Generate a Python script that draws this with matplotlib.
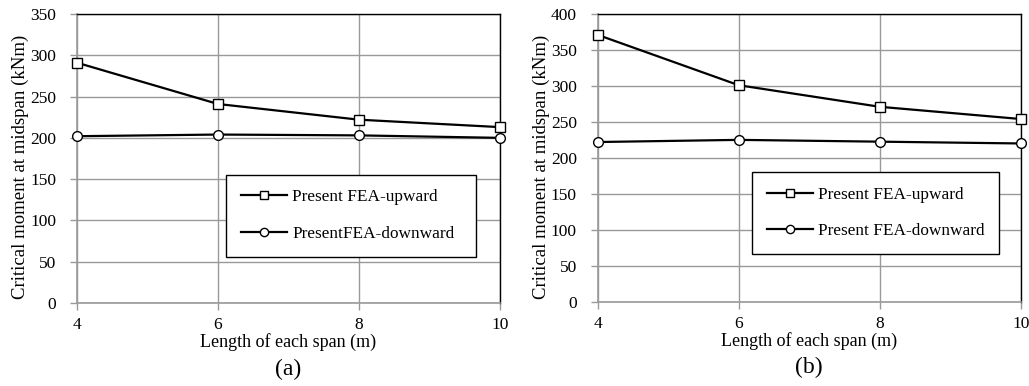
import numpy as np
import matplotlib
matplotlib.use("Agg")
from matplotlib import pyplot as plt

plt.rcParams['font.family'] = ['Liberation Serif', 'DejaVu Serif']

span = [4, 6, 8, 10]

# (a)
up_a = [291, 241, 222, 213]
down_a = [202, 204, 203, 200]
# (b)
up_b = [371, 301, 271, 254]
down_b = [222, 225, 222.5, 220]

labels_a = ['Present FEA-upward', 'PresentFEA-downward']
labels_b = ['Present FEA-upward', 'Present FEA-downward']

W, H = 1029, 386
fig = plt.figure(figsize=(W / 100, H / 100), dpi=100)

grid_c = '#999999'


def panel(rect, up, down, labels, ymax, tag, leg_box):
    ax = fig.add_axes(rect)
    ax.plot(span, up, color='black', lw=1.6, marker='s', ms=7,
            mfc='white', mec='black', mew=1.0, label=labels[0], zorder=3,
            clip_on=False)
    ax.plot(span, down, color='black', lw=1.6, marker='o', ms=7,
            mfc='white', mec='black', mew=1.0, label=labels[1], zorder=3,
            clip_on=False)
    ax.set_xlim(4, 10)
    ax.set_ylim(0, ymax)
    ax.set_xticks(span)
    ax.set_yticks(np.arange(0, ymax + 1, 50))
    ax.grid(True, color=grid_c, lw=1.0)
    ax.set_axisbelow(True)
    for s in ['left', 'bottom']:
        ax.spines[s].set_color(grid_c)
        ax.spines[s].set_linewidth(1.2)
    for s in ['top', 'right']:
        ax.spines[s].set_color('black')
        ax.spines[s].set_linewidth(1.0)
    ax.tick_params(direction='out', length=5, width=1.0, color=grid_c,
                   labelsize=12.5)
    ax.tick_params(axis='y', pad=10)
    ax.tick_params(axis='x', pad=5)
    ax.set_xlabel('Length of each span (m)', fontsize=13, labelpad=0)
    ax.set_ylabel('Critical moment at midspan (kNm)', fontsize=13.5)
    ax.yaxis.set_label_coords(-0.113, 0.47)
    leg = ax.legend(loc='center', bbox_to_anchor=leg_box, mode='expand',
                    borderaxespad=0, fontsize=12.4, frameon=True,
                    fancybox=False, handlelength=2.7, handletextpad=0.3,
                    labelspacing=1.2, borderpad=0.85, markerscale=0.85)
    leg.get_frame().set_edgecolor('black')
    leg.get_frame().set_linewidth(1.0)
    leg.get_frame().set_alpha(1)
    ax.text(0.5, (303 - 369) / 289, tag, transform=ax.transAxes, ha='center',
            va='center', fontsize=17)
    return ax


ax1 = panel([77 / W, 1 - 303 / H, 423 / W, 289 / H], up_a, down_a, labels_a,
            350, '(a)', (0.352, 0.166, 0.591, 0.273))
ax2 = panel([597.7 / W, 1 - 301.7 / H, 423 / W, 287.7 / H], up_b, down_b,
            labels_b, 400, '(b)', (0.365, 0.176, 0.584, 0.264))

fig.savefig('out.png', dpi=100)
